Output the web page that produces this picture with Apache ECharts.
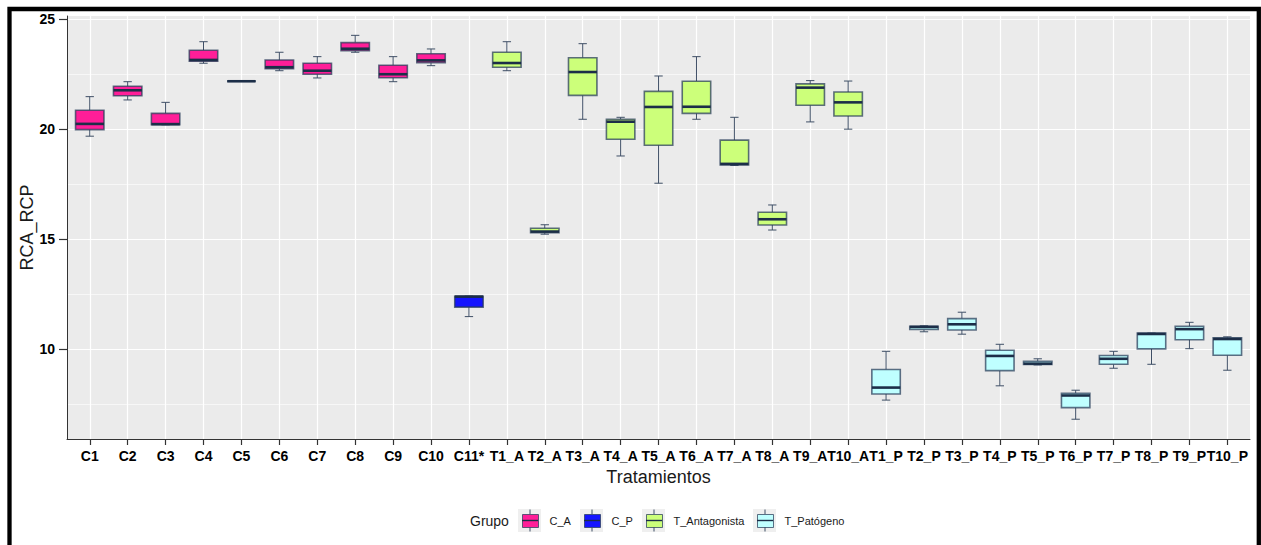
<!DOCTYPE html>
<html>
<head>
<meta charset="utf-8">
<script src="https://cdn.jsdelivr.net/npm/echarts@6/dist/echarts.min.js"></script>
<style>
  html, body { margin: 0; padding: 0; background: #ffffff; }
  #chart { width: 1261px; height: 545px; }
</style>
</head>
<body>
<div id="chart"></div>
<script>
// Treatments on the x axis
const categories = ['C1', 'C2', 'C3', 'C4', 'C5', 'C6', 'C7', 'C8', 'C9', 'C10', 'C11*',
  'T1_A', 'T2_A', 'T3_A', 'T4_A', 'T5_A', 'T6_A', 'T7_A', 'T8_A', 'T9_A', 'T10_A',
  'T1_P', 'T2_P', 'T3_P', 'T4_P', 'T5_P', 'T6_P', 'T7_P', 'T8_P', 'T9_P', 'T10_P'];

// Group of each treatment
const groups = ['C_A', 'C_A', 'C_A', 'C_A', 'C_A', 'C_A', 'C_A', 'C_A', 'C_A', 'C_A', 'C_P',
  'T_Antagonista', 'T_Antagonista', 'T_Antagonista', 'T_Antagonista', 'T_Antagonista',
  'T_Antagonista', 'T_Antagonista', 'T_Antagonista', 'T_Antagonista', 'T_Antagonista',
  'T_Patógeno', 'T_Patógeno', 'T_Patógeno', 'T_Patógeno', 'T_Patógeno',
  'T_Patógeno', 'T_Patógeno', 'T_Patógeno', 'T_Patógeno', 'T_Patógeno'];

// Box statistics of RCA_RCP per treatment
const whiskerLow = [19.68, 21.33, 20.20, 23.00, 22.18, 22.66, 22.33, 23.50, 22.16, 22.89, 11.47,
  22.66, 15.22, 20.45, 18.78, 17.54, 20.45, 18.35, 15.41, 20.33, 20.00,
  7.67, 10.78, 10.67, 8.32, 9.27, 6.80, 9.12, 9.30, 10.01, 9.03];
const lowerQuartile = [19.98, 21.52, 20.20, 23.09, 22.18, 22.75, 22.50, 23.57, 22.34, 23.03, 11.90,
  22.82, 15.29, 21.54, 19.54, 19.27, 20.72, 18.37, 15.64, 21.09, 20.60,
  7.95, 10.88, 10.86, 9.01, 9.29, 7.33, 9.30, 10.00, 10.42, 9.71];
const medians = [20.24, 21.77, 20.23, 23.15, 22.18, 22.82, 22.66, 23.66, 22.50, 23.13, 12.38,
  23.01, 15.34, 22.60, 20.34, 21.01, 21.02, 18.42, 15.90, 21.89, 21.22,
  8.24, 11.00, 11.12, 9.68, 9.33, 7.88, 9.55, 10.68, 10.90, 10.45];
const upperQuartile = [20.86, 21.95, 20.72, 23.59, 22.18, 23.15, 23.00, 23.94, 22.91, 23.43, 12.39,
  23.50, 15.49, 23.25, 20.45, 21.72, 22.18, 19.50, 16.22, 22.06, 21.69,
  9.06, 11.03, 11.38, 9.94, 9.44, 7.98, 9.70, 10.72, 11.03, 10.51];
const whiskerHigh = [21.48, 22.16, 21.22, 23.98, 22.18, 23.50, 23.30, 24.27, 23.30, 23.65, 12.40,
  23.98, 15.65, 23.89, 20.54, 22.42, 23.30, 20.54, 16.55, 22.21, 22.19,
  9.89, 11.05, 11.67, 10.21, 9.55, 8.12, 9.89, 10.72, 11.21, 10.55];

const groupNames = ['C_A', 'C_P', 'T_Antagonista', 'T_Patógeno'];
const groupColors = ['#FF1E98', '#1414FF', '#CCFF7A', '#BFFFFF'];
const yTicks = [10, 15, 20, 25];
const yRange = [5.9, 25.15];

const FONT = '"Liberation Sans", Arial, Helvetica, sans-serif';
const BOX_STROKE = 'rgba(38,58,88,0.72)';
const WHISKER = '#3F4F66';
const MEDIAN = '#1C2E48';

function renderBox(params, api) {
  const i = api.value(0);
  const pMin = api.coord([i, api.value(1)]);
  const pQ1 = api.coord([i, api.value(2)]);
  const pMed = api.coord([i, api.value(3)]);
  const pQ3 = api.coord([i, api.value(4)]);
  const pMax = api.coord([i, api.value(5)]);
  const band = api.size([1, 0])[0];
  const cx = pMed[0];
  const half = band * 0.375;
  const capHalf = band * 0.11;
  const fill = api.visual('color');
  const wStyle = { stroke: WHISKER, lineWidth: 1 };
  return {
    type: 'group',
    children: [
      { type: 'line', shape: { x1: cx, y1: pQ3[1], x2: cx, y2: pMax[1] }, style: wStyle },
      { type: 'line', shape: { x1: cx, y1: pQ1[1], x2: cx, y2: pMin[1] }, style: wStyle },
      { type: 'line', shape: { x1: cx - capHalf, y1: pMax[1], x2: cx + capHalf, y2: pMax[1] }, style: wStyle },
      { type: 'line', shape: { x1: cx - capHalf, y1: pMin[1], x2: cx + capHalf, y2: pMin[1] }, style: wStyle },
      { type: 'rect', shape: { x: cx - half, y: pQ3[1], width: half * 2, height: pQ1[1] - pQ3[1] },
        style: { fill: fill, stroke: BOX_STROKE, lineWidth: 1.6 } },
      { type: 'line', shape: { x1: cx - half, y1: pMed[1], x2: cx + half, y2: pMed[1] },
        style: { stroke: MEDIAN, lineWidth: 2.6 } }
    ]
  };
}

const series = groupNames.map((g, gi) => ({
  type: 'custom',
  name: g,
  xAxisIndex: 1,
  yAxisIndex: 1,
  itemStyle: { color: groupColors[gi], borderColor: BOX_STROKE },
  encode: { x: 0, y: [1, 2, 3, 4, 5] },
  data: categories
    .map((c, i) => groups[i] === g
      ? [i, whiskerLow[i], lowerQuartile[i], medians[i], upperQuartile[i], whiskerHigh[i]]
      : null)
    .filter(d => d !== null),
  renderItem: renderBox
}));

// Legend: one entry per group, with grey key backgrounds and box glyph lines
const legendKeyX = [518, 580, 642, 753];
const legendTop = 514;
const legends = groupNames.map((g, gi) => ({
  show: true,
  left: legendKeyX[gi] + 4,
  top: legendTop,
  padding: 0,
  itemWidth: 16,
  itemHeight: 13,
  icon: 'rect',
  selectedMode: false,
  data: [g],
  itemStyle: { borderColor: BOX_STROKE, borderWidth: 1 },
  textStyle: { fontFamily: FONT, fontSize: 11, color: '#1a1a1a', padding: [0, 0, 0, 6] }
}));

const legendGraphics = [];
legendKeyX.forEach((kx) => {
  legendGraphics.push({ type: 'rect', z: 1, shape: { x: kx, y: 509, width: 23, height: 23 },
    style: { fill: '#EFEFEF' } });
  legendGraphics.push({ type: 'line', z: 10, shape: { x1: kx + 12, y1: 509.5, x2: kx + 12, y2: 514 },
    style: { stroke: WHISKER, lineWidth: 1 } });
  legendGraphics.push({ type: 'line', z: 10, shape: { x1: kx + 12, y1: 527, x2: kx + 12, y2: 531.5 },
    style: { stroke: WHISKER, lineWidth: 1 } });
  legendGraphics.push({ type: 'line', z: 10, shape: { x1: kx + 4, y1: 520.5, x2: kx + 20, y2: 520.5 },
    style: { stroke: MEDIAN, lineWidth: 1.4 } });
});

const option = {
  animation: false,
  backgroundColor: '#ffffff',
  grid: [
    { left: 67, top: 16, width: 1183, height: 423, show: true, backgroundColor: '#EBEBEB', borderWidth: 0 },
    { left: 89.75, top: 16, width: 1137.6, height: 423, show: false }
  ],
  xAxis: [
    {
      gridIndex: 0, type: 'value', min: 0, max: 1,
      axisLine: { show: true, lineStyle: { color: '#333333', width: 1 } },
      axisTick: { show: false }, axisLabel: { show: false }, splitLine: { show: false }
    },
    {
      gridIndex: 1, type: 'category', data: categories, boundaryGap: false,
      name: 'Tratamientos', nameLocation: 'middle', nameGap: 29,
      nameTextStyle: { fontFamily: FONT, fontSize: 18, color: '#1a1a1a' },
      axisLine: { show: false },
      axisTick: { show: true, interval: 0, length: 6, lineStyle: { color: '#333333', width: 1.2 } },
      axisLabel: { interval: 0, margin: 10, fontFamily: FONT, fontSize: 14, fontWeight: 'bold', color: '#000000' },
      splitLine: { show: true, interval: 0, lineStyle: { color: '#ffffff', width: 1.2 } }
    }
  ],
  yAxis: [
    {
      gridIndex: 0, type: 'value', min: yRange[0], max: yRange[1], splitNumber: 4,
      name: 'RCA_RCP', nameLocation: 'middle', nameGap: 31, nameMoveOverlap: false,
      nameTextStyle: { fontFamily: FONT, fontSize: 18, color: '#1a1a1a' },
      axisLine: { show: true, lineStyle: { color: '#333333', width: 1 } },
      axisTick: { show: true, length: 8, customValues: yTicks, lineStyle: { color: '#333333', width: 1.2 } },
      axisLabel: { customValues: yTicks, margin: 12,
        fontFamily: FONT, fontSize: 14, fontWeight: 'bold', color: '#000000' },
      splitLine: { show: true, lineStyle: { color: '#ffffff', width: 1.2 } },
      minorTick: { show: false, splitNumber: 2 },
      minorSplitLine: { show: true, lineStyle: { color: '#ffffff', width: 0.6 } }
    },
    {
      gridIndex: 1, type: 'value', min: yRange[0], max: yRange[1], show: false,
      splitLine: { show: false }
    }
  ],
  legend: legends,
  graphic: [
    ...legendGraphics,
    { type: 'text', z: 10, style: { x: 470, y: 521, text: 'Grupo', fontFamily: FONT, fontSize: 14,
      fill: '#1a1a1a', verticalAlign: 'middle', align: 'left' } },
    { type: 'rect', z: 20, silent: true, shape: { x: 9.5, y: 9, width: 1249.3, height: 700 },
      style: { fill: 'none', stroke: '#000000', lineWidth: 4.3 } }
  ],
  series: series
};

const chart = echarts.init(document.getElementById('chart'), null, { renderer: 'svg' });
chart.setOption(option);
</script>
</body>
</html>
